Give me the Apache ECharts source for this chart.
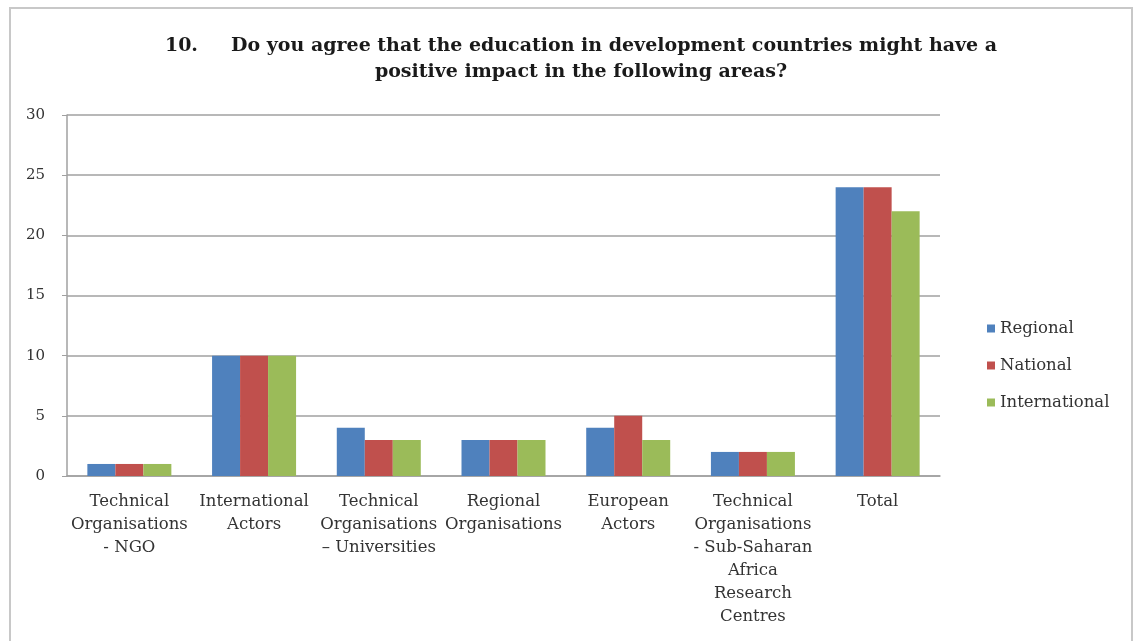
<!DOCTYPE html>
<html style="height: 100%">
<head>
    <title>Education impact</title>
    <meta charset="utf-8">
</head>
<body style="height: 100%; margin: 0; background: #fff">
<div id="container" style="height:641px;width:1136px"></div>
<script src="https://cdn.jsdelivr.net/npm/echarts@6/dist/echarts.min.js"></script>
<script type="text/javascript">
    // data
    var categories = [
        'Technical\nOrganisations\n- NGO',
        'International\nActors',
        'Technical\nOrganisations\n– Universities',
        'Regional\nOrganisations',
        'European\nActors',
        'Technical\nOrganisations\n- Sub-Saharan\nAfrica\nResearch\nCentres',
        'Total'
    ];
    var regional = [1, 10, 4, 3, 4, 2, 24];
    var national = [1, 10, 3, 3, 5, 2, 24];
    var international = [1, 10, 3, 3, 3, 2, 22];
    var yTicks = [0, 5, 10, 15, 20, 25, 30];

    var font = '"DejaVu Serif", "Liberation Serif", serif';
    var myChart = echarts.init(document.getElementById('container'));

    function bar(name, data, color) {
        return {
            name: name,
            type: 'bar',
            data: data,
            barWidth: 28,
            barGap: '0%',
            itemStyle: {color: color}
        };
    }

    myChart.setOption({
        animation: false,
        title: {
            text: '10.     Do you agree that the education in development countries might have a\npositive impact in the following areas?',
            left: 576,
            top: 28,
            textAlign: 'center',
            textStyle: {
                fontFamily: font,
                fontSize: 19,
                fontWeight: 'bold',
                color: '#1a1a1a',
                lineHeight: 26
            }
        },
        graphic: [{
            type: 'rect',
            shape: {x: 10, y: 8, width: 1122, height: 640},
            style: {fill: 'none', stroke: '#c8c8c8', lineWidth: 2},
            silent: true
        }],
        legend: {
            orient: 'vertical',
            left: 982,
            top: 315,
            itemWidth: 8,
            itemHeight: 8,
            itemGap: 20,
            icon: 'rect',
            textStyle: {fontFamily: font, fontSize: 16.5, color: '#333'},
            data: ['Regional', 'National', 'International']
        },
        grid: {left: 67, right: 196, top: 115, bottom: 165},
        xAxis: {
            type: 'category',
            data: categories,
            axisLine: {lineStyle: {color: '#a0a0a0', width: 1.5}},
            axisTick: {show: false},
            axisLabel: {
                interval: 0,
                fontFamily: font,
                fontSize: 16.5,
                color: '#333',
                lineHeight: 23,
                margin: 14
            }
        },
        yAxis: {
            type: 'value',
            min: yTicks[0],
            max: yTicks[yTicks.length - 1],
            interval: 5,
            axisLine: {show: true, lineStyle: {color: '#a0a0a0', width: 1.5}},
            axisTick: {show: true, inside: false, length: 5, lineStyle: {color: '#a0a0a0'}},
            splitLine: {lineStyle: {color: '#a0a0a0', width: 1.5}},
            axisLabel: {fontFamily: font, fontSize: 15, color: '#333', margin: 22}
        },
        series: [
            bar('Regional', regional, '#4f81bd'),
            bar('National', national, '#c0504d'),
            bar('International', international, '#9bbb59')
        ]
    });
</script>
</body>
</html>
